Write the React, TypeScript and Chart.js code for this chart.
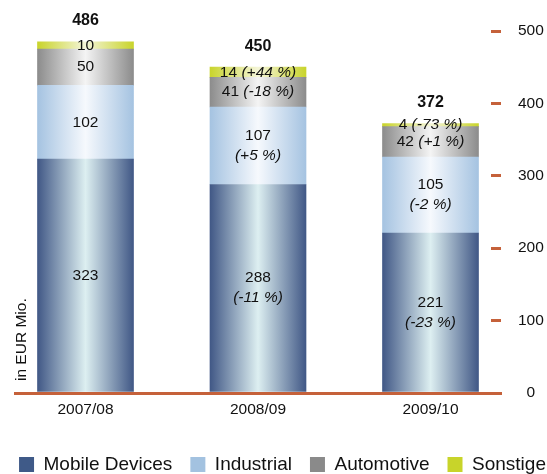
import React, { useEffect, useRef } from 'react';
import { Chart, registerables } from 'chart.js';

Chart.register(...registerables);

const categories = ['2007/08', '2008/09', '2009/10'];
const mobileDevices = [323, 288, 221];
const industrial = [102, 107, 105];
const automotive = [50, 41, 42];
const sonstige = [10, 14, 4];
const totals = [486, 450, 372];
const mobileChange = ['', '-11 %', '-23 %'];
const industrialChange = ['', '+5 %', '-2 %'];
const automotiveChange = ['', '-18 %', '+1 %'];
const sonstigeChange = ['', '+44 %', '-73 %'];
const yTickValues = [0, 100, 200, 300, 400, 500];
const yAxisTitle = 'in EUR Mio.';

const FONT = "'Liberation Sans', Arial, Helvetica, sans-serif";
const ORANGE = '#C5613A';
const TEXT = '#111111';
const LABEL_SIZE = 15.5;

const toPoints = (arr: number[]) => arr.map((v, i) => ({ x: i, y: v }));

const gradientPlugin = {
  id: 'barGradient',
  beforeDatasetsDraw(chart: any) {
    const ctx = chart.ctx;
    chart.data.datasets.forEach((ds: any, di: number) => {
      const meta = chart.getDatasetMeta(di);
      if (meta.hidden) return;
      meta.data.forEach((el: any) => {
        const { x, width } = el.getProps(['x', 'width'], true);
        const g = ctx.createLinearGradient(x - width / 2, 0, x + width / 2, 0);
        g.addColorStop(0, ds.gradientEdge);
        g.addColorStop(0.5, ds.gradientCenter);
        g.addColorStop(1, ds.gradientEdge);
        el.options = { ...el.options, backgroundColor: g };
      });
    });
  },
};

const labelPlugin = {
  id: 'barLabels',
  afterDatasetsDraw(chart: any) {
    const ctx = chart.ctx;
    const normal = `${LABEL_SIZE}px ${FONT}`;
    const italic = `italic ${LABEL_SIZE}px ${FONT}`;
    const bold = `bold ${LABEL_SIZE + 0.5}px ${FONT}`;
    ctx.save();
    ctx.fillStyle = TEXT;
    ctx.textBaseline = 'middle';
    chart.data.datasets.forEach((ds: any, di: number) => {
      const meta = chart.getDatasetMeta(di);
      meta.data.forEach((el: any, i: number) => {
        const { x, y, base } = el.getProps(['x', 'y', 'base'], true);
        const cy = (y + base) / 2;
        const value = String(ds.data[i].y);
        const change = ds.changes[i];
        if (!change) {
          ctx.font = normal;
          ctx.textAlign = 'center';
          ctx.fillText(value, x, cy);
        } else if (ds.inlineLabel) {
          ctx.font = normal;
          const a = value + ' ';
          const wa = ctx.measureText(a).width;
          ctx.font = italic;
          const b = `(${change})`;
          const wb = ctx.measureText(b).width;
          const sx = x - (wa + wb) / 2;
          ctx.textAlign = 'left';
          ctx.font = normal;
          ctx.fillText(a, sx, cy);
          ctx.font = italic;
          ctx.fillText(b, sx + wa, cy);
        } else {
          ctx.textAlign = 'center';
          ctx.font = normal;
          ctx.fillText(value, x, cy - 10);
          ctx.font = italic;
          ctx.fillText(`(${change})`, x, cy + 10);
        }
      });
    });
    const lastMeta = chart.getDatasetMeta(chart.data.datasets.length - 1);
    lastMeta.data.forEach((el: any, i: number) => {
      ctx.font = bold;
      ctx.textAlign = 'center';
      ctx.fillText(String(totals[i]), el.x, el.y - 21);
    });
    const area = chart.chartArea;
    ctx.save();
    ctx.translate(area.left + 6.5, area.bottom - 12);
    ctx.rotate(-Math.PI / 2);
    ctx.font = normal;
    ctx.textAlign = 'left';
    ctx.fillText(yAxisTitle, 0, 0);
    ctx.restore();
    ctx.restore();
  },
};

export default function App() {
  const canvasRef = useRef<HTMLCanvasElement | null>(null);

  useEffect(() => {
    if (!canvasRef.current) return;
    Chart.defaults.font.family = FONT;
    const common = { barThickness: 96, borderWidth: 0, xAxisID: 'x', yAxisID: 'y' };
    const chart = new Chart(canvasRef.current, {
      type: 'bar',
      data: {
        datasets: [
          {
            label: 'Mobile Devices',
            data: toPoints(mobileDevices),
            backgroundColor: '#3F5A88',
            gradientEdge: '#415886',
            gradientCenter: '#DDEFF1',
            changes: mobileChange,
            inlineLabel: false,
            ...common,
          },
          {
            label: 'Industrial',
            data: toPoints(industrial),
            backgroundColor: '#A3C2E0',
            gradientEdge: '#A5C3E1',
            gradientCenter: '#F6F9FD',
            changes: industrialChange,
            inlineLabel: false,
            ...common,
          },
          {
            label: 'Automotive',
            data: toPoints(automotive),
            backgroundColor: '#8A8A8A',
            gradientEdge: '#8C8C8C',
            gradientCenter: '#F4F4F4',
            changes: automotiveChange,
            inlineLabel: true,
            ...common,
          },
          {
            label: 'Sonstige',
            data: toPoints(sonstige),
            backgroundColor: '#C8D42A',
            gradientEdge: '#C9D42C',
            gradientCenter: '#F4F5D8',
            changes: sonstigeChange,
            inlineLabel: true,
            ...common,
          },
        ] as any,
      },
      options: {
        responsive: false,
        animation: false,
        layout: { padding: { top: 31, bottom: -10, left: -10, right: -28 } },
        plugins: {
          legend: {
            position: 'bottom',
            labels: {
              boxWidth: 15,
              boxHeight: 15,
              padding: 18,
              color: TEXT,
              font: { size: 19, family: FONT },
            },
          },
          tooltip: { enabled: false },
        },
        scales: {
          x: {
            type: 'linear',
            stacked: true,
            offset: false,
            bounds: 'data',
            min: -0.4087,
            max: 2.4087,
            z: 1,
            afterBuildTicks: (s: any) => {
              s.ticks = categories.map((_, i) => ({ value: i }));
            },
            afterFit: (s: any) => {
              s.height = 44;
            },
            grid: { display: false, drawTicks: false, offset: false },
            border: { display: true, color: ORANGE, width: 3 },
            ticks: {
              padding: 7,
              color: TEXT,
              font: { size: LABEL_SIZE },
              autoSkip: false,
              maxRotation: 0,
              callback: (v: any) => categories[v] ?? '',
            },
          },
          y: {
            type: 'linear',
            position: 'right',
            stacked: true,
            min: 0,
            max: 500,
            afterBuildTicks: (s: any) => {
              s.ticks = yTickValues.map((v) => ({ value: v }));
            },
            afterFit: (s: any) => {
              s.width = 74;
              s.paddingTop = 0;
              s.paddingBottom = 0;
            },
            grid: {
              display: true,
              drawOnChartArea: false,
              drawTicks: true,
              tickLength: -10,
              color: ORANGE,
              lineWidth: 3,
            },
            border: { display: false },
            ticks: {
              padding: 27,
              crossAlign: 'center',
              color: TEXT,
              font: { size: LABEL_SIZE },
            },
          },
          yLeft: {
            type: 'linear',
            position: 'left',
            display: true,
            afterFit: (s: any) => {
              s.width = 25;
            },
            grid: { display: false, drawTicks: false },
            border: { display: false },
            ticks: { display: false },
          },
        },
      } as any,
      plugins: [gradientPlugin, labelPlugin],
    });
    return () => chart.destroy();
  }, []);

  return (
    <div style={{ position: 'fixed', left: 0, top: 0, width: 547, height: 474, background: '#fff' }}>
      <canvas ref={canvasRef} width={547} height={474} style={{ display: 'block' }} />
    </div>
  );
}
